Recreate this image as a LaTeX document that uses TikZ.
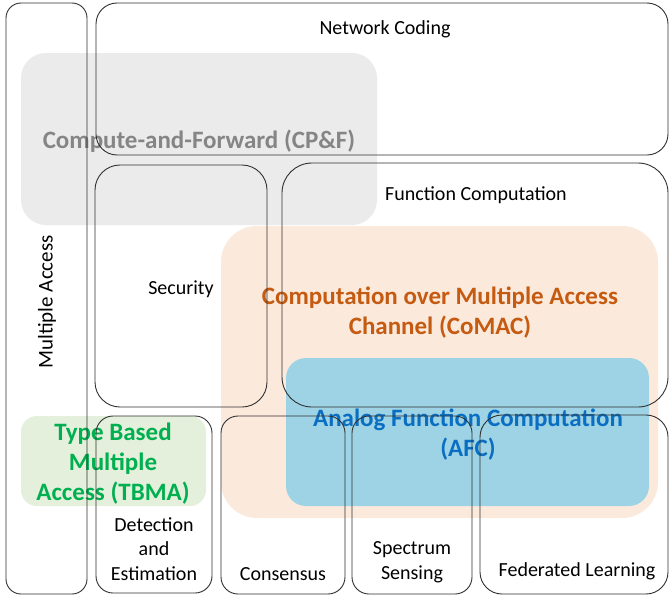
\documentclass[tikz,border=0pt]{standalone}
\usepackage{fontspec}
\setmainfont{Carlito}
\definecolor{cpfgray}{HTML}{EBEBEB}
\definecolor{cpftext}{HTML}{858585}
\definecolor{comacfill}{HTML}{FBE9DC}
\definecolor{comactext}{HTML}{C55A11}
\definecolor{afcfill}{HTML}{9DD3E4}
\definecolor{afctext}{HTML}{0A6FC2}
\definecolor{tbmafill}{HTML}{E4F0DB}
\definecolor{tbmatext}{HTML}{00B050}
\definecolor{edge}{HTML}{303030}
\tikzset{
  outline/.style={draw=edge, line width=0.9pt},
  lab/.style={font=\fontsize{20}{24.5}\selectfont, align=center, inner sep=0pt},
  big/.style={font=\fontsize{25}{30}\selectfont\bfseries, align=center, inner sep=0pt},
}
\begin{document}
\begin{tikzpicture}[x=1pt,y=-1pt]
\useasboundingbox (0,0) rectangle (669,597);
\fill[white] (0,0) rectangle (669,597);
% fills
\fill[comacfill, rounded corners=36pt] (221,226) rectangle (658,518);
\fill[afcfill, rounded corners=20pt] (286,358) rectangle (649,506);
\fill[cpfgray, rounded corners=25pt] (21,53) rectangle (377,225);
\fill[tbmafill, rounded corners=16pt] (21,416) rectangle (206,506);
% texts
\node[big, text=cpftext] (cpf) at (199,141) {Compute-and-Forward (CP\&F)};
\node[big, text=comactext] (comac) at (440,313) {Computation over Multiple Access\\Channel (CoMAC)};
\node[big, text=afctext] (afc) at (468,435) {Analog Function Computation\\(AFC)};
\node[big, text=tbmatext] (tbma) at (113,464) {Type Based\\Multiple\\Access (TBMA)};
\node[lab] (nc) at (385,29) {Network Coding};
\node[lab] (fc) at (476,195) {Function Computation};
\node[lab] (sec) at (181,289) {Security};
\node[lab, rotate=90, font=\fontsize{21}{24}\selectfont] (ma) at (47,302) {Multiple Access};
\node[lab] (de) at (154,549) {Detection\\and\\Estimation};
\node[lab] (cons) at (283,574) {Consensus};
\node[lab] (ss) at (412,562) {Spectrum\\Sensing};
\node[lab] (fl) at (577,571) {Federated Learning};
% outlines
\draw[outline, rounded corners=15pt] (6,3) rectangle (87,594);
\draw[outline, rounded corners=21pt] (96,3) rectangle (668,155);
\draw[outline, rounded corners=25pt] (95,165) rectangle (267,407);
\draw[outline, rounded corners=30pt] (282,163) rectangle (668,407);
\draw[outline, rounded corners=17pt] (96,416) rectangle (212,593);
\draw[outline, rounded corners=17pt] (221,416) rectangle (345,594);
\draw[outline, rounded corners=17pt] (352,416) rectangle (472,594);
\draw[outline, rounded corners=22pt] (480,415) rectangle (668,594);
\end{tikzpicture}
\end{document}
